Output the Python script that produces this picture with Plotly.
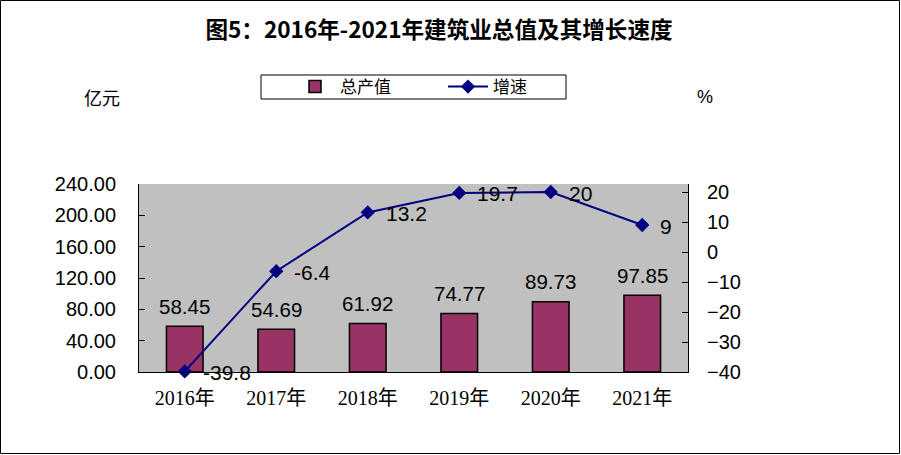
import plotly.graph_objects as go

years = ["2016年", "2017年", "2018年", "2019年", "2020年", "2021年"]
output_value = [58.45, 54.69, 61.92, 74.77, 89.73, 97.85]
growth_rate = [-39.8, -6.4, 13.2, 19.7, 20, 9]
left_ticks = [0, 40, 80, 120, 160, 200, 240]
right_ticks = [-40, -30, -20, -10, 0, 10, 20]

W, H = 901, 455
L, R, T, B = 139, 213, 184, 83
pw, ph = W - L - R, H - T - B

def px_x(p):
    return (p - L) / pw

def px_y(p):
    return (H - B - p) / ph

NUM_FONT = "Liberation Sans, Arial"

fig = go.Figure()
fig.add_trace(go.Bar(
    x=years, y=output_value, name="总产值",
    marker=dict(color="#993366", line=dict(color="black", width=1.5)),
    width=0.4, yaxis="y",
))
fig.add_trace(go.Scatter(
    x=years, y=growth_rate, name="增速", yaxis="y2",
    mode="lines+markers",
    line=dict(color="#000080", width=2),
    marker=dict(symbol="diamond", size=11, color="#000080"),
    cliponaxis=False,
))

for x, v in zip(years, output_value):
    fig.add_annotation(x=x, y=v, xref="x", yref="y", text=f"{v:.2f}",
                       showarrow=False, yshift=20, xanchor="center", yanchor="middle",
                       font=dict(family=NUM_FONT, size=20.5, color="black"))

for x, v in zip(years, growth_rate):
    fig.add_annotation(x=x, y=v, xref="x", yref="y2", text=str(v),
                       showarrow=False, xshift=16, yshift=-1, xanchor="left", yanchor="middle",
                       font=dict(family=NUM_FONT, size=21, color="black"))

fig.add_annotation(x=px_x(102), y=px_y(97), xref="paper", yref="paper", text="亿元",
                   showarrow=False, xanchor="center", yanchor="middle",
                   font=dict(family="Noto Sans CJK SC", size=18, color="black"))
fig.add_annotation(x=px_x(705), y=px_y(97), xref="paper", yref="paper", text="%",
                   showarrow=False, xanchor="center", yanchor="middle",
                   font=dict(family=NUM_FONT, size=18, color="black"))

# legend box
fig.add_shape(type="rect", xref="paper", yref="paper",
              x0=px_x(261), x1=px_x(566), y0=px_y(99), y1=px_y(75),
              line=dict(color="black", width=1), fillcolor="white", layer="below")
# outer frame
fig.add_shape(type="rect", xref="paper", yref="paper",
              x0=px_x(0.5), x1=px_x(899.5), y0=px_y(453.5), y1=px_y(0.5),
              line=dict(color="black", width=1), layer="below")

fig.update_layout(
    width=W, height=H,
    margin=dict(l=L, r=R, t=T, b=B),
    paper_bgcolor="white", plot_bgcolor="#C0C0C0",
    title=dict(text="<b>图5：2016年-2021年建筑业总值及其增长速度</b>",
               x=439 / W, xanchor="center", y=1 - 30 / H, yanchor="middle",
               font=dict(family="Noto Sans CJK SC, Liberation Sans", size=22.6, color="black")),
    showlegend=True,
    legend=dict(orientation="h", x=px_x(290), xanchor="left", y=px_y(87), yanchor="middle",
                bgcolor="rgba(0,0,0,0)", font=dict(family="Noto Sans CJK SC", size=17, color="black"),
                entrywidth=98, itemwidth=40),
    xaxis=dict(showline=True, linecolor="black", linewidth=1, ticks="",
               tickfont=dict(family="Liberation Serif, Noto Sans CJK SC", size=20, color="black"),
               ticklabelstandoff=8, showgrid=False),
    yaxis=dict(range=[0, 240], tickvals=left_ticks, tickformat=".2f",
               showline=True, linecolor="black", linewidth=1,
               ticks="inside", ticklen=6, tickcolor="black", showgrid=False, zeroline=False,
               tickfont=dict(family=NUM_FONT, size=20, color="black"),
               ticklabelstandoff=18),
    yaxis2=dict(range=[-40, 22.67], tickvals=right_ticks, overlaying="y", side="right",
                showline=True, linecolor="black", linewidth=1,
                ticks="inside", ticklen=6, tickcolor="black", showgrid=False, zeroline=False,
                tickfont=dict(family=NUM_FONT, size=20, color="black"),
                ticklabelstandoff=14),
    bargap=0.6,
)

fig.write_html("out.html", config={"displayModeBar": False},
               post_script="document.body.style.margin='0px';")
